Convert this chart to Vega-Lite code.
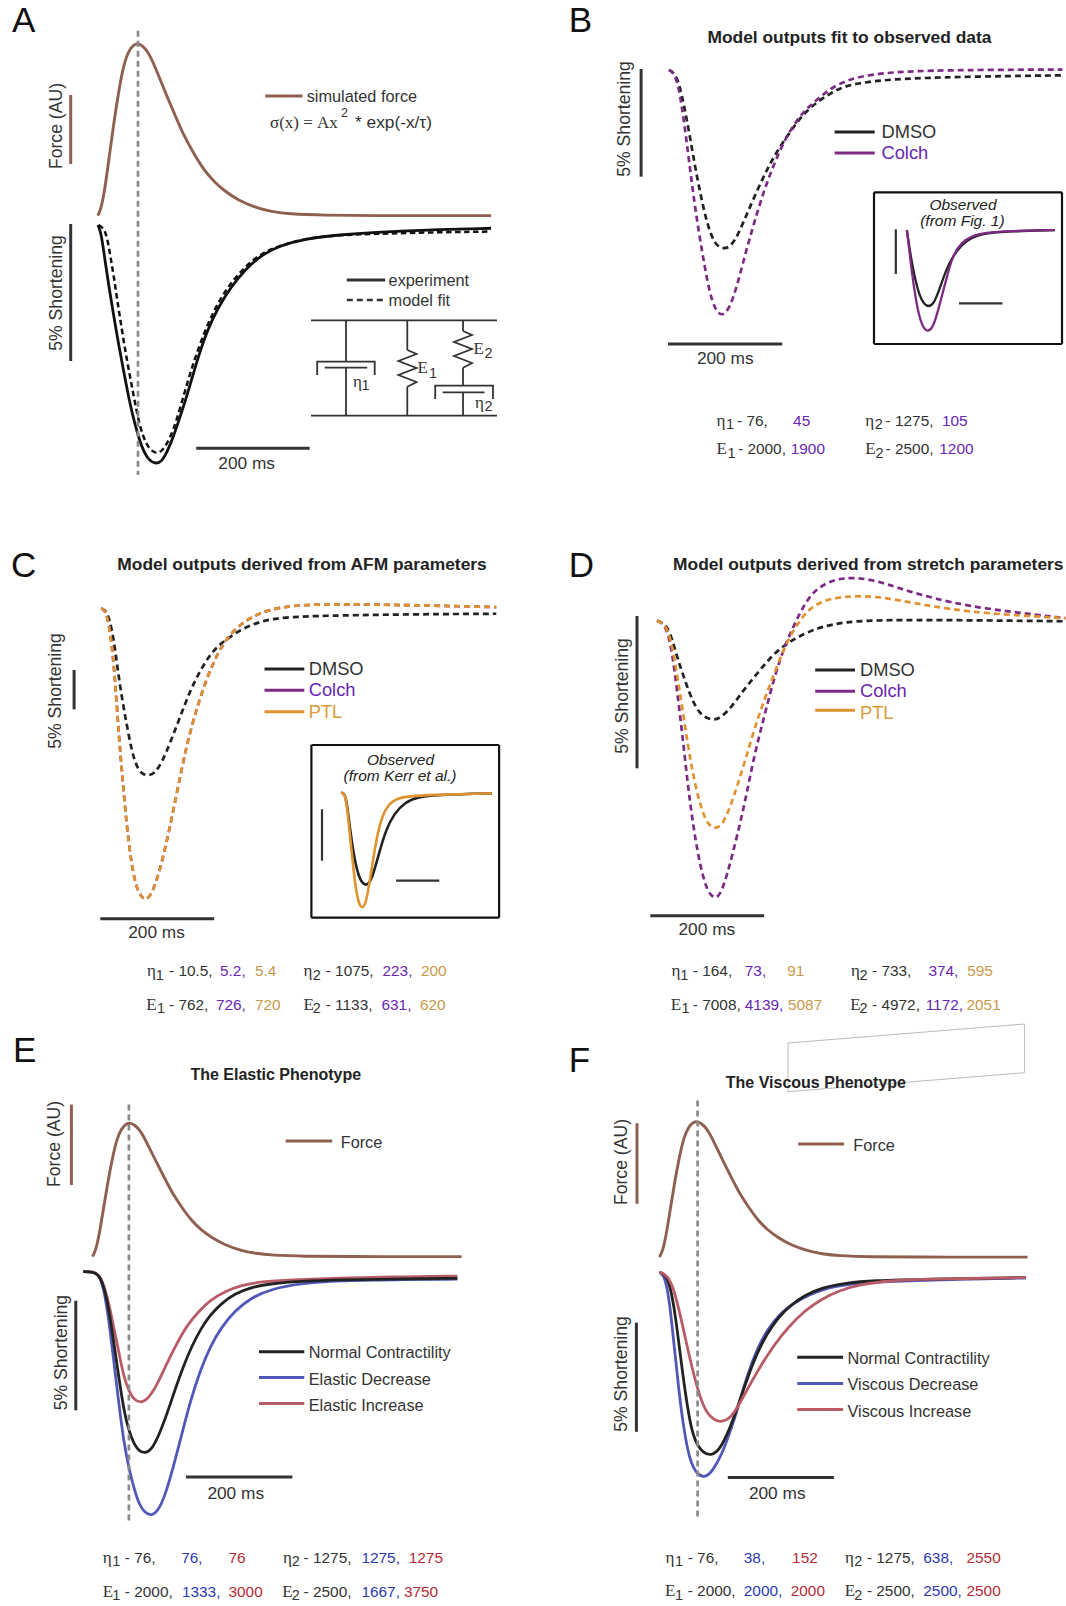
{"$schema":"https://vega.github.io/schema/vega-lite/v6.json","width":1066,"height":1606,"autosize":{"type":"none"},"padding":0,"background":"white","config":{"view":{"stroke":null}},
"datasets":{
"force":[{"series":"force","t":0,"au":0},{"series":"force","t":6,"au":0.043},{"series":"force","t":13,"au":0.168},{"series":"force","t":20,"au":0.342},{"series":"force","t":28,"au":0.536},{"series":"force","t":37,"au":0.729},{"series":"force","t":46,"au":0.884},{"series":"force","t":55,"au":0.961},{"series":"force","t":64,"au":0.994},{"series":"force","t":71,"au":1},{"series":"force","t":79,"au":0.986},{"series":"force","t":88,"au":0.952},{"series":"force","t":97,"au":0.894},{"series":"force","t":109,"au":0.797},{"series":"force","t":121,"au":0.7},{"series":"force","t":136,"au":0.584},{"series":"force","t":151,"au":0.468},{"series":"force","t":169,"au":0.362},{"series":"force","t":187,"au":0.265},{"series":"force","t":205,"au":0.197},{"series":"force","t":223,"au":0.145},{"series":"force","t":247,"au":0.091},{"series":"force","t":277,"au":0.048},{"series":"force","t":307,"au":0.023},{"series":"force","t":337,"au":0.01},{"series":"force","t":397,"au":0.002},{"series":"force","t":487,"au":0},{"series":"force","t":607,"au":0},{"series":"force","t":694,"au":0}],
"A_exp":[{"series":"experiment","t":0,"pct":0},{"series":"experiment","t":6,"pct":-0.3},{"series":"experiment","t":13.2,"pct":-1.4},{"series":"experiment","t":20.4,"pct":-2.37},{"series":"experiment","t":28.2,"pct":-3.35},{"series":"experiment","t":37.2,"pct":-4.44},{"series":"experiment","t":46.2,"pct":-5.41},{"series":"experiment","t":55.2,"pct":-6.39},{"series":"experiment","t":64.2,"pct":-7.18},{"series":"experiment","t":73.2,"pct":-7.85},{"series":"experiment","t":82.2,"pct":-8.33},{"series":"experiment","t":91.2,"pct":-8.6},{"series":"experiment","t":102,"pct":-8.72},{"series":"experiment","t":112.2,"pct":-8.64},{"series":"experiment","t":121.2,"pct":-8.33},{"series":"experiment","t":133.2,"pct":-7.73},{"series":"experiment","t":145.2,"pct":-7},{"series":"experiment","t":160.2,"pct":-6.03},{"series":"experiment","t":175.2,"pct":-4.93},{"series":"experiment","t":193.2,"pct":-3.84},{"series":"experiment","t":211.2,"pct":-3.05},{"series":"experiment","t":235.2,"pct":-2.25},{"series":"experiment","t":259.2,"pct":-1.64},{"series":"experiment","t":289.2,"pct":-1.09},{"series":"experiment","t":319.2,"pct":-0.77},{"series":"experiment","t":367.2,"pct":-0.49},{"series":"experiment","t":427.2,"pct":-0.36},{"series":"experiment","t":487.2,"pct":-0.27},{"series":"experiment","t":577.2,"pct":-0.18},{"series":"experiment","t":694,"pct":-0.12}],
"A_fit":[{"series":"model","t":1.2,"pct":0},{"series":"model","t":10.2,"pct":-0.12},{"series":"model","t":16.2,"pct":-0.43},{"series":"model","t":22.2,"pct":-1.16},{"series":"model","t":28.2,"pct":-1.89},{"series":"model","t":34.2,"pct":-2.74},{"series":"model","t":43.2,"pct":-3.95},{"series":"model","t":52.2,"pct":-5.05},{"series":"model","t":61.2,"pct":-6.02},{"series":"model","t":70.2,"pct":-7},{"series":"model","t":79.2,"pct":-7.72},{"series":"model","t":91.2,"pct":-8.21},{"series":"model","t":104.4,"pct":-8.36},{"series":"model","t":115.2,"pct":-8.21},{"series":"model","t":127.2,"pct":-7.79},{"series":"model","t":139.2,"pct":-7.12},{"series":"model","t":154.2,"pct":-6.02},{"series":"model","t":169.2,"pct":-4.99},{"series":"model","t":187.2,"pct":-3.95},{"series":"model","t":205.2,"pct":-3.1},{"series":"model","t":229.2,"pct":-2.25},{"series":"model","t":259.2,"pct":-1.52},{"series":"model","t":289.2,"pct":-1.03},{"series":"model","t":319.2,"pct":-0.77},{"series":"model","t":367.2,"pct":-0.49},{"series":"model","t":427.2,"pct":-0.36},{"series":"model","t":487,"pct":-0.33},{"series":"model","t":577,"pct":-0.27},{"series":"model","t":694,"pct":-0.24}],
"B_model":[{"series":"DMSO","t":0,"pct":0},{"series":"DMSO","t":8.9,"pct":-0.12},{"series":"DMSO","t":17.9,"pct":-0.62},{"series":"DMSO","t":26.8,"pct":-1.7},{"series":"DMSO","t":35.7,"pct":-2.94},{"series":"DMSO","t":44.6,"pct":-4.33},{"series":"DMSO","t":53.6,"pct":-5.57},{"series":"DMSO","t":62.5,"pct":-6.66},{"series":"DMSO","t":71.4,"pct":-7.51},{"series":"DMSO","t":80.4,"pct":-8.05},{"series":"DMSO","t":89.3,"pct":-8.25},{"series":"DMSO","t":99.4,"pct":-8.3},{"series":"DMSO","t":110.1,"pct":-8.13},{"series":"DMSO","t":122,"pct":-7.59},{"series":"DMSO","t":136.9,"pct":-6.66},{"series":"DMSO","t":154.8,"pct":-5.57},{"series":"DMSO","t":172.6,"pct":-4.57},{"series":"DMSO","t":190.5,"pct":-3.72},{"series":"DMSO","t":214.3,"pct":-2.79},{"series":"DMSO","t":238.1,"pct":-1.94},{"series":"DMSO","t":267.8,"pct":-1.32},{"series":"DMSO","t":297.6,"pct":-0.85},{"series":"DMSO","t":327.4,"pct":-0.62},{"series":"DMSO","t":386.9,"pct":-0.43},{"series":"DMSO","t":476.2,"pct":-0.34},{"series":"DMSO","t":595,"pct":-0.28},{"series":"DMSO","t":689,"pct":-0.25},
{"series":"Colch","t":0,"pct":0},{"series":"Colch","t":8.9,"pct":-0.12},{"series":"Colch","t":17.9,"pct":-0.85},{"series":"Colch","t":26.8,"pct":-2.48},{"series":"Colch","t":35.7,"pct":-4.33},{"series":"Colch","t":44.6,"pct":-6.19},{"series":"Colch","t":53.6,"pct":-7.74},{"series":"Colch","t":62.5,"pct":-9.13},{"series":"Colch","t":71.4,"pct":-10.37},{"series":"Colch","t":80.4,"pct":-11.07},{"series":"Colch","t":88.1,"pct":-11.33},{"series":"Colch","t":95.2,"pct":-11.38},{"series":"Colch","t":105.9,"pct":-11.07},{"series":"Colch","t":119,"pct":-10.06},{"series":"Colch","t":133.9,"pct":-8.51},{"series":"Colch","t":148.8,"pct":-7.12},{"series":"Colch","t":166.7,"pct":-5.57},{"series":"Colch","t":184.5,"pct":-4.33},{"series":"Colch","t":202.4,"pct":-3.25},{"series":"Colch","t":220.2,"pct":-2.48},{"series":"Colch","t":238.1,"pct":-1.86},{"series":"Colch","t":261.9,"pct":-1.32},{"series":"Colch","t":285.7,"pct":-0.8},{"series":"Colch","t":315.5,"pct":-0.43},{"series":"Colch","t":357.1,"pct":-0.19},{"series":"Colch","t":416.7,"pct":-0.06},{"series":"Colch","t":505.9,"pct":0},{"series":"Colch","t":689,"pct":0.02}],
"B_obs":[{"series":"DMSO","t":0,"pct":0},{"series":"DMSO","t":10.9,"pct":-1.87},{"series":"DMSO","t":23.4,"pct":-3.73},{"series":"DMSO","t":39.1,"pct":-5.6},{"series":"DMSO","t":54.7,"pct":-7.09},{"series":"DMSO","t":75,"pct":-8.21},{"series":"DMSO","t":98.4,"pct":-8.65},{"series":"DMSO","t":125,"pct":-8.21},{"series":"DMSO","t":148.4,"pct":-6.71},{"series":"DMSO","t":179.7,"pct":-4.48},{"series":"DMSO","t":210.9,"pct":-2.98},{"series":"DMSO","t":250,"pct":-1.68},{"series":"DMSO","t":296.9,"pct":-0.82},{"series":"DMSO","t":359.4,"pct":-0.37},{"series":"DMSO","t":468.8,"pct":-0.15},{"series":"DMSO","t":679.7,"pct":0},
{"series":"Colch","t":0,"pct":0},{"series":"Colch","t":10.9,"pct":-2.24},{"series":"Colch","t":23.4,"pct":-4.85},{"series":"Colch","t":39.1,"pct":-7.46},{"series":"Colch","t":54.7,"pct":-9.51},{"series":"Colch","t":75,"pct":-11},{"series":"Colch","t":98.4,"pct":-11.41},{"series":"Colch","t":121.9,"pct":-10.82},{"series":"Colch","t":148.4,"pct":-8.58},{"series":"Colch","t":179.7,"pct":-5.6},{"series":"Colch","t":210.9,"pct":-2.8},{"series":"Colch","t":250,"pct":-1.42},{"series":"Colch","t":296.9,"pct":-0.67},{"series":"Colch","t":359.4,"pct":-0.3},{"series":"Colch","t":468.8,"pct":-0.11},{"series":"Colch","t":679.7,"pct":0}],
"C_model":[{"series":"DMSO","t":0,"pct":0},{"series":"DMSO","t":7.2,"pct":-0.21},{"series":"DMSO","t":14.3,"pct":-1.27},{"series":"DMSO","t":22.1,"pct":-4.02},{"series":"DMSO","t":28.1,"pct":-7.41},{"series":"DMSO","t":35.8,"pct":-11.2},{"series":"DMSO","t":44.2,"pct":-14.6},{"series":"DMSO","t":53.1,"pct":-18},{"series":"DMSO","t":60.9,"pct":-19.9},{"series":"DMSO","t":69.8,"pct":-20.97},{"series":"DMSO","t":81.8,"pct":-21.31},{"series":"DMSO","t":93.7,"pct":-20.97},{"series":"DMSO","t":105.7,"pct":-19.7},{"series":"DMSO","t":120.6,"pct":-17.16},{"series":"DMSO","t":138.5,"pct":-13.77},{"series":"DMSO","t":156.4,"pct":-10.38},{"series":"DMSO","t":174.3,"pct":-7.84},{"series":"DMSO","t":192.2,"pct":-5.72},{"series":"DMSO","t":210.1,"pct":-4.45},{"series":"DMSO","t":234,"pct":-3.18},{"series":"DMSO","t":257.9,"pct":-2.25},{"series":"DMSO","t":287.8,"pct":-1.48},{"series":"DMSO","t":323.6,"pct":-1.14},{"series":"DMSO","t":371.3,"pct":-0.97},{"series":"DMSO","t":478.8,"pct":-0.81},{"series":"DMSO","t":598.2,"pct":-0.72},{"series":"DMSO","t":693.7,"pct":-0.68},
{"series":"Colch","t":0,"pct":0},{"series":"Colch","t":7.2,"pct":-0.3},{"series":"Colch","t":13.1,"pct":-1.91},{"series":"Colch","t":19.1,"pct":-4.87},{"series":"Colch","t":25.1,"pct":-9.96},{"series":"Colch","t":31,"pct":-16.3},{"series":"Colch","t":37,"pct":-21.4},{"series":"Colch","t":44.2,"pct":-27.3},{"series":"Colch","t":51.9,"pct":-32},{"series":"Colch","t":60.9,"pct":-35.4},{"series":"Colch","t":69.8,"pct":-36.6},{"series":"Colch","t":77.6,"pct":-37.16},{"series":"Colch","t":87.8,"pct":-36.4},{"series":"Colch","t":99.7,"pct":-34.1},{"series":"Colch","t":114.6,"pct":-29.9},{"series":"Colch","t":132.5,"pct":-23.5},{"series":"Colch","t":150.4,"pct":-17.16},{"series":"Colch","t":168.4,"pct":-12.5},{"series":"Colch","t":186.3,"pct":-8.68},{"series":"Colch","t":204.2,"pct":-5.72},{"series":"Colch","t":222.1,"pct":-3.6},{"series":"Colch","t":246,"pct":-1.91},{"series":"Colch","t":275.8,"pct":-0.64},{"series":"Colch","t":311.6,"pct":0.13},{"series":"Colch","t":359.4,"pct":0.47},{"series":"Colch","t":419.1,"pct":0.55},{"series":"Colch","t":538.5,"pct":0.42},{"series":"Colch","t":693.7,"pct":0.17}],
"C_ptl":[{"series":"PTL","t":0,"pct":0},{"series":"PTL","t":7.2,"pct":-0.3},{"series":"PTL","t":13.1,"pct":-1.91},{"series":"PTL","t":19.1,"pct":-4.87},{"series":"PTL","t":25.1,"pct":-9.96},{"series":"PTL","t":31,"pct":-16.3},{"series":"PTL","t":37,"pct":-21.4},{"series":"PTL","t":44.2,"pct":-27.3},{"series":"PTL","t":51.9,"pct":-32},{"series":"PTL","t":60.9,"pct":-35.4},{"series":"PTL","t":69.8,"pct":-36.6},{"series":"PTL","t":77.6,"pct":-37.16},{"series":"PTL","t":87.8,"pct":-36.4},{"series":"PTL","t":99.7,"pct":-34.1},{"series":"PTL","t":114.6,"pct":-29.9},{"series":"PTL","t":132.5,"pct":-23.5},{"series":"PTL","t":150.4,"pct":-17.16},{"series":"PTL","t":168.4,"pct":-12.5},{"series":"PTL","t":186.3,"pct":-8.68},{"series":"PTL","t":204.2,"pct":-5.72},{"series":"PTL","t":222.1,"pct":-3.6},{"series":"PTL","t":246,"pct":-1.91},{"series":"PTL","t":275.8,"pct":-0.64},{"series":"PTL","t":311.6,"pct":0.13},{"series":"PTL","t":359.4,"pct":0.47},{"series":"PTL","t":419.1,"pct":0.55},{"series":"PTL","t":538.5,"pct":0.42},{"series":"PTL","t":693.7,"pct":0.17}],
"C_obs":[{"series":"DMSO","t":0,"pct":0.06},{"series":"DMSO","t":18.9,"pct":0},{"series":"DMSO","t":29.9,"pct":-1.3},{"series":"DMSO","t":42.5,"pct":-3.57},{"series":"DMSO","t":58.3,"pct":-5.84},{"series":"DMSO","t":77.2,"pct":-7.79},{"series":"DMSO","t":97.7,"pct":-8.77},{"series":"DMSO","t":121.3,"pct":-9.03},{"series":"DMSO","t":144.9,"pct":-8.28},{"series":"DMSO","t":176.4,"pct":-5.84},{"series":"DMSO","t":207.9,"pct":-3.57},{"series":"DMSO","t":247.3,"pct":-1.95},{"series":"DMSO","t":294.5,"pct":-0.91},{"series":"DMSO","t":357.5,"pct":-0.32},{"series":"DMSO","t":467.8,"pct":-0.13},{"series":"DMSO","t":699.3,"pct":0},
{"series":"PTL","t":0,"pct":0.06},{"series":"PTL","t":18.9,"pct":0},{"series":"PTL","t":29.9,"pct":-1.62},{"series":"PTL","t":42.5,"pct":-4.22},{"series":"PTL","t":55.1,"pct":-6.82},{"series":"PTL","t":69.3,"pct":-9.42},{"series":"PTL","t":85,"pct":-10.88},{"series":"PTL","t":99.2,"pct":-11.23},{"series":"PTL","t":116.6,"pct":-10.71},{"series":"PTL","t":137,"pct":-8.12},{"series":"PTL","t":160.7,"pct":-4.87},{"series":"PTL","t":184.3,"pct":-2.6},{"series":"PTL","t":215.8,"pct":-1.14},{"series":"PTL","t":263,"pct":-0.42},{"series":"PTL","t":341.8,"pct":-0.23},{"series":"PTL","t":467.8,"pct":-0.13},{"series":"PTL","t":699.3,"pct":0}],
"D_model":[{"series":"DMSO","t":0,"pct":0},{"series":"DMSO","t":9,"pct":-0.07},{"series":"DMSO","t":17.9,"pct":-0.2},{"series":"DMSO","t":26.9,"pct":-0.63},{"series":"DMSO","t":35.8,"pct":-1.23},{"series":"DMSO","t":44.8,"pct":-1.73},{"series":"DMSO","t":56.7,"pct":-2.38},{"series":"DMSO","t":68.7,"pct":-2.87},{"series":"DMSO","t":80.6,"pct":-3.15},{"series":"DMSO","t":98.5,"pct":-3.28},{"series":"DMSO","t":113.4,"pct":-3.17},{"series":"DMSO","t":131.3,"pct":-2.82},{"series":"DMSO","t":152.2,"pct":-2.27},{"series":"DMSO","t":176.1,"pct":-1.73},{"series":"DMSO","t":200,"pct":-1.18},{"series":"DMSO","t":223.9,"pct":-0.8},{"series":"DMSO","t":247.8,"pct":-0.53},{"series":"DMSO","t":277.6,"pct":-0.27},{"series":"DMSO","t":307.5,"pct":-0.12},{"series":"DMSO","t":349.2,"pct":-0.01},{"series":"DMSO","t":408.9,"pct":0.02},{"series":"DMSO","t":498.5,"pct":0.02},{"series":"DMSO","t":617.9,"pct":0},{"series":"DMSO","t":717,"pct":-0.02},
{"series":"Colch","t":0,"pct":0},{"series":"Colch","t":9,"pct":-0.07},{"series":"Colch","t":17.9,"pct":-0.31},{"series":"Colch","t":26.9,"pct":-1.07},{"series":"Colch","t":35.8,"pct":-2.39},{"series":"Colch","t":44.8,"pct":-3.81},{"series":"Colch","t":53.7,"pct":-5.34},{"series":"Colch","t":62.7,"pct":-6.65},{"series":"Colch","t":74.6,"pct":-7.97},{"series":"Colch","t":86.6,"pct":-8.79},{"series":"Colch","t":95.5,"pct":-9.04},{"series":"Colch","t":104.5,"pct":-9.12},{"series":"Colch","t":113.4,"pct":-8.9},{"series":"Colch","t":125.4,"pct":-8.19},{"series":"Colch","t":140.3,"pct":-7.09},{"series":"Colch","t":155.2,"pct":-5.89},{"series":"Colch","t":170.2,"pct":-4.46},{"series":"Colch","t":188.1,"pct":-3.15},{"series":"Colch","t":206,"pct":-1.84},{"series":"Colch","t":223.9,"pct":-0.85},{"series":"Colch","t":241.8,"pct":-0.09},{"series":"Colch","t":259.7,"pct":0.57},{"series":"Colch","t":277.6,"pct":1.01},{"series":"Colch","t":301.5,"pct":1.28},{"series":"Colch","t":325.4,"pct":1.39},{"series":"Colch","t":349.2,"pct":1.41},{"series":"Colch","t":379.1,"pct":1.33},{"series":"Colch","t":408.9,"pct":1.17},{"series":"Colch","t":438.8,"pct":0.98},{"series":"Colch","t":486.6,"pct":0.73},{"series":"Colch","t":546.3,"pct":0.48},{"series":"Colch","t":617.9,"pct":0.3},{"series":"Colch","t":717,"pct":0.08},
{"series":"PTL","t":0,"pct":0},{"series":"PTL","t":9,"pct":-0.07},{"series":"PTL","t":17.9,"pct":-0.25},{"series":"PTL","t":26.9,"pct":-0.85},{"series":"PTL","t":35.8,"pct":-1.84},{"series":"PTL","t":44.8,"pct":-2.93},{"series":"PTL","t":53.7,"pct":-4.03},{"series":"PTL","t":62.7,"pct":-5.01},{"series":"PTL","t":74.6,"pct":-6},{"series":"PTL","t":86.6,"pct":-6.6},{"series":"PTL","t":95.5,"pct":-6.78},{"series":"PTL","t":104.5,"pct":-6.82},{"series":"PTL","t":116.4,"pct":-6.65},{"series":"PTL","t":128.4,"pct":-6.11},{"series":"PTL","t":140.3,"pct":-5.45},{"series":"PTL","t":155.2,"pct":-4.57},{"series":"PTL","t":170.2,"pct":-3.59},{"series":"PTL","t":188.1,"pct":-2.6},{"series":"PTL","t":206,"pct":-1.73},{"series":"PTL","t":223.9,"pct":-0.85},{"series":"PTL","t":241.8,"pct":-0.25},{"series":"PTL","t":259.7,"pct":0.24},{"series":"PTL","t":277.6,"pct":0.52},{"series":"PTL","t":301.5,"pct":0.71},{"series":"PTL","t":331.3,"pct":0.79},{"series":"PTL","t":361.2,"pct":0.81},{"series":"PTL","t":397,"pct":0.76},{"series":"PTL","t":438.8,"pct":0.62},{"series":"PTL","t":486.6,"pct":0.46},{"series":"PTL","t":546.3,"pct":0.3},{"series":"PTL","t":617.9,"pct":0.19},{"series":"PTL","t":717,"pct":0.08}],
"E_model":[{"series":"Elastic Decrease","t":-17.3,"pct":0},{"series":"Elastic Decrease","t":0,"pct":0},{"series":"Elastic Decrease","t":11.5,"pct":-0.12},{"series":"Elastic Decrease","t":21,"pct":-0.7},{"series":"Elastic Decrease","t":31,"pct":-2.22},{"series":"Elastic Decrease","t":40,"pct":-4.06},{"series":"Elastic Decrease","t":50,"pct":-6.11},{"series":"Elastic Decrease","t":59,"pct":-7.79},{"series":"Elastic Decrease","t":69,"pct":-9.05},{"series":"Elastic Decrease","t":79,"pct":-9.97},{"series":"Elastic Decrease","t":88,"pct":-10.64},{"series":"Elastic Decrease","t":98,"pct":-11},{"series":"Elastic Decrease","t":110.5,"pct":-11.16},{"series":"Elastic Decrease","t":123,"pct":-10.94},{"series":"Elastic Decrease","t":136,"pct":-10.27},{"series":"Elastic Decrease","t":152,"pct":-8.93},{"series":"Elastic Decrease","t":168,"pct":-7.42},{"series":"Elastic Decrease","t":184,"pct":-5.91},{"series":"Elastic Decrease","t":203,"pct":-4.48},{"series":"Elastic Decrease","t":222,"pct":-3.39},{"series":"Elastic Decrease","t":242,"pct":-2.55},{"series":"Elastic Decrease","t":267,"pct":-1.8},{"series":"Elastic Decrease","t":299,"pct":-1.17},{"series":"Elastic Decrease","t":337,"pct":-0.79},{"series":"Elastic Decrease","t":389,"pct":-0.54},{"series":"Elastic Decrease","t":465,"pct":-0.4},{"series":"Elastic Decrease","t":561,"pct":-0.37},{"series":"Elastic Decrease","t":686,"pct":-0.34},
{"series":"Elastic Increase","t":-17.3,"pct":0},{"series":"Elastic Increase","t":0,"pct":0},{"series":"Elastic Increase","t":11.5,"pct":-0.12},{"series":"Elastic Increase","t":21,"pct":-0.54},{"series":"Elastic Increase","t":31,"pct":-1.46},{"series":"Elastic Increase","t":40,"pct":-2.55},{"series":"Elastic Increase","t":50,"pct":-3.72},{"series":"Elastic Increase","t":59,"pct":-4.82},{"series":"Elastic Increase","t":69,"pct":-5.49},{"series":"Elastic Increase","t":79,"pct":-5.87},{"series":"Elastic Increase","t":91.4,"pct":-5.99},{"series":"Elastic Increase","t":104,"pct":-5.82},{"series":"Elastic Increase","t":120,"pct":-5.24},{"series":"Elastic Increase","t":139,"pct":-4.23},{"series":"Elastic Increase","t":158,"pct":-3.31},{"series":"Elastic Increase","t":177,"pct":-2.47},{"series":"Elastic Increase","t":200,"pct":-1.8},{"series":"Elastic Increase","t":222,"pct":-1.29},{"series":"Elastic Increase","t":248,"pct":-0.91},{"series":"Elastic Increase","t":280,"pct":-0.62},{"series":"Elastic Increase","t":318,"pct":-0.45},{"series":"Elastic Increase","t":369,"pct":-0.37},{"series":"Elastic Increase","t":465,"pct":-0.29},{"series":"Elastic Increase","t":561,"pct":-0.24},{"series":"Elastic Increase","t":686,"pct":-0.2},
{"series":"Normal Contractility","t":-17.3,"pct":0},{"series":"Normal Contractility","t":0,"pct":0},{"series":"Normal Contractility","t":11.5,"pct":-0.12},{"series":"Normal Contractility","t":21,"pct":-0.62},{"series":"Normal Contractility","t":31,"pct":-1.71},{"series":"Normal Contractility","t":40,"pct":-3.22},{"series":"Normal Contractility","t":50,"pct":-4.9},{"series":"Normal Contractility","t":59,"pct":-6.33},{"series":"Normal Contractility","t":69,"pct":-7.33},{"series":"Normal Contractility","t":79,"pct":-7.92},{"series":"Normal Contractility","t":88,"pct":-8.2},{"series":"Normal Contractility","t":100,"pct":-8.29},{"series":"Normal Contractility","t":111,"pct":-8.12},{"series":"Normal Contractility","t":123,"pct":-7.58},{"series":"Normal Contractility","t":139,"pct":-6.58},{"series":"Normal Contractility","t":155,"pct":-5.4},{"series":"Normal Contractility","t":171,"pct":-4.31},{"series":"Normal Contractility","t":187,"pct":-3.39},{"series":"Normal Contractility","t":203,"pct":-2.63},{"series":"Normal Contractility","t":222,"pct":-1.96},{"series":"Normal Contractility","t":242,"pct":-1.46},{"series":"Normal Contractility","t":267,"pct":-1.01},{"series":"Normal Contractility","t":299,"pct":-0.7},{"series":"Normal Contractility","t":337,"pct":-0.54},{"series":"Normal Contractility","t":389,"pct":-0.44},{"series":"Normal Contractility","t":465,"pct":-0.37},{"series":"Normal Contractility","t":561,"pct":-0.34},{"series":"Normal Contractility","t":686,"pct":-0.3}],
"F_model":[{"series":"Viscous Decrease","t":0,"pct":0},{"series":"Viscous Decrease","t":8.3,"pct":-0.09},{"series":"Viscous Decrease","t":17.9,"pct":-1.05},{"series":"Viscous Decrease","t":27.5,"pct":-3.31},{"series":"Viscous Decrease","t":37.1,"pct":-5.57},{"series":"Viscous Decrease","t":46.8,"pct":-7.32},{"series":"Viscous Decrease","t":56.4,"pct":-8.54},{"series":"Viscous Decrease","t":69.2,"pct":-9.23},{"series":"Viscous Decrease","t":86.5,"pct":-9.44},{"series":"Viscous Decrease","t":101.3,"pct":-9.06},{"series":"Viscous Decrease","t":117.3,"pct":-8.36},{"series":"Viscous Decrease","t":133.3,"pct":-7.32},{"series":"Viscous Decrease","t":149.4,"pct":-6.1},{"series":"Viscous Decrease","t":165.4,"pct":-4.71},{"series":"Viscous Decrease","t":184.6,"pct":-3.48},{"series":"Viscous Decrease","t":203.8,"pct":-2.61},{"series":"Viscous Decrease","t":229.5,"pct":-1.83},{"series":"Viscous Decrease","t":255.1,"pct":-1.39},{"series":"Viscous Decrease","t":280.8,"pct":-1.05},{"series":"Viscous Decrease","t":312.9,"pct":-0.73},{"series":"Viscous Decrease","t":351.3,"pct":-0.56},{"series":"Viscous Decrease","t":402.6,"pct":-0.45},{"series":"Viscous Decrease","t":498.7,"pct":-0.35},{"series":"Viscous Decrease","t":691,"pct":-0.26},
{"series":"Normal Contractility","t":0,"pct":0},{"series":"Normal Contractility","t":11.5,"pct":-0.09},{"series":"Normal Contractility","t":21.2,"pct":-0.7},{"series":"Normal Contractility","t":30.8,"pct":-2.09},{"series":"Normal Contractility","t":40.4,"pct":-4.01},{"series":"Normal Contractility","t":50,"pct":-5.75},{"series":"Normal Contractility","t":59.6,"pct":-7.14},{"series":"Normal Contractility","t":69.2,"pct":-7.84},{"series":"Normal Contractility","t":82,"pct":-8.28},{"series":"Normal Contractility","t":99.3,"pct":-8.4},{"series":"Normal Contractility","t":114,"pct":-8.1},{"series":"Normal Contractility","t":130,"pct":-7.32},{"series":"Normal Contractility","t":146,"pct":-6.27},{"series":"Normal Contractility","t":165.3,"pct":-4.88},{"series":"Normal Contractility","t":184.5,"pct":-3.66},{"series":"Normal Contractility","t":203.7,"pct":-2.79},{"series":"Normal Contractility","t":223,"pct":-2.09},{"series":"Normal Contractility","t":248.6,"pct":-1.48},{"series":"Normal Contractility","t":274.2,"pct":-1.05},{"series":"Normal Contractility","t":306.3,"pct":-0.7},{"series":"Normal Contractility","t":351.2,"pct":-0.49},{"series":"Normal Contractility","t":402.5,"pct":-0.38},{"series":"Normal Contractility","t":498.6,"pct":-0.31},{"series":"Normal Contractility","t":691,"pct":-0.24},
{"series":"Viscous Increase","t":0,"pct":0},{"series":"Viscous Increase","t":11.5,"pct":-0.09},{"series":"Viscous Increase","t":24.4,"pct":-0.52},{"series":"Viscous Increase","t":37.2,"pct":-1.74},{"series":"Viscous Increase","t":50,"pct":-3.14},{"series":"Viscous Increase","t":62.8,"pct":-4.53},{"series":"Viscous Increase","t":75.6,"pct":-5.66},{"series":"Viscous Increase","t":88.5,"pct":-6.45},{"series":"Viscous Increase","t":104.5,"pct":-6.79},{"series":"Viscous Increase","t":117.3,"pct":-6.86},{"series":"Viscous Increase","t":133.3,"pct":-6.71},{"series":"Viscous Increase","t":149.4,"pct":-6.1},{"series":"Viscous Increase","t":168.6,"pct":-5.23},{"series":"Viscous Increase","t":191,"pct":-4.27},{"series":"Viscous Increase","t":216.7,"pct":-3.31},{"series":"Viscous Increase","t":242.3,"pct":-2.53},{"series":"Viscous Increase","t":274.3,"pct":-1.74},{"series":"Viscous Increase","t":306.4,"pct":-1.22},{"series":"Viscous Increase","t":338.4,"pct":-0.84},{"series":"Viscous Increase","t":376.9,"pct":-0.56},{"series":"Viscous Increase","t":434.6,"pct":-0.38},{"series":"Viscous Increase","t":498.7,"pct":-0.31},{"series":"Viscous Increase","t":691,"pct":-0.24}],
"segments":[
{"x":70.7,"x2":70.7,"y":95,"y2":164,"c":"force","role":"bar"},{"x":70.7,"x2":70.7,"y":224,"y2":361,"c":"ink","role":"bar"},{"x":196.2,"x2":309.7,"y":448.3,"y2":448.3,"c":"ink","role":"bar"},{"x":265.2,"x2":302.6,"y":96,"y2":96,"c":"force","role":"bar"},{"x":346.8,"x2":385.2,"y":280,"y2":280,"c":"ink","role":"bar"},
{"x":311,"x2":497,"y":320.3,"y2":320.3,"c":"ink","role":"thin"},{"x":311,"x2":497,"y":415.7,"y2":415.7,"c":"ink","role":"thin"},{"x":346,"x2":346,"y":320.3,"y2":361,"c":"ink","role":"thin"},{"x":346,"x2":346,"y":367.7,"y2":415.7,"c":"ink","role":"thin"},{"x":324.7,"x2":367.2,"y":367.7,"y2":367.7,"c":"ink","role":"thin"},{"x":407.3,"x2":407.3,"y":320.3,"y2":350,"c":"ink","role":"thin"},{"x":407.3,"x2":407.3,"y":386.7,"y2":415.7,"c":"ink","role":"thin"},{"x":463,"x2":463,"y":320.3,"y2":331,"c":"ink","role":"thin"},{"x":463,"x2":463,"y":367.7,"y2":385.7,"c":"ink","role":"thin"},{"x":463,"x2":463,"y":392.3,"y2":415.7,"c":"ink","role":"thin"},{"x":442.7,"x2":484.5,"y":392.3,"y2":392.3,"c":"ink","role":"thin"},
{"x":641.1,"x2":641.1,"y":69,"y2":176.7,"c":"ink","role":"bar"},{"x":668,"x2":782.2,"y":344,"y2":344,"c":"ink","role":"bar"},{"x":834.6,"x2":874.7,"y":132,"y2":132,"c":"DMSO","role":"bar"},{"x":834.6,"x2":874.7,"y":153,"y2":153,"c":"Colch","role":"bar"},
{"x":874,"x2":1062,"y":192.3,"y2":192.3,"c":"black","role":"box"},{"x":874,"x2":1062,"y":344,"y2":344,"c":"black","role":"box"},{"x":874,"x2":874,"y":192.3,"y2":344,"c":"black","role":"box"},{"x":1062,"x2":1062,"y":192.3,"y2":344,"c":"black","role":"box"},{"x":895.8,"x2":895.8,"y":229.3,"y2":274,"c":"ink","role":"box"},{"x":959,"x2":1002.5,"y":303.3,"y2":303.3,"c":"ink","role":"box"},
{"x":74.1,"x2":74.1,"y":670,"y2":709.3,"c":"ink","role":"bar"},{"x":100.3,"x2":214.2,"y":918.7,"y2":918.7,"c":"ink","role":"bar"},{"x":264.5,"x2":304.3,"y":669,"y2":669,"c":"DMSO","role":"bar"},{"x":264.5,"x2":304.3,"y":690.3,"y2":690.3,"c":"Colch","role":"bar"},{"x":264.5,"x2":304.3,"y":711.7,"y2":711.7,"c":"PTL","role":"bar"},
{"x":311.4,"x2":499.1,"y":745,"y2":745,"c":"black","role":"box"},{"x":311.4,"x2":499.1,"y":917.7,"y2":917.7,"c":"black","role":"box"},{"x":311.4,"x2":311.4,"y":745,"y2":917.7,"c":"black","role":"box"},{"x":499.1,"x2":499.1,"y":745,"y2":917.7,"c":"black","role":"box"},{"x":322,"x2":322,"y":809.3,"y2":860.7,"c":"ink","role":"box"},{"x":396.1,"x2":439.3,"y":880.7,"y2":880.7,"c":"ink","role":"box"},
{"x":637,"x2":637,"y":616,"y2":768.3,"c":"ink","role":"bar"},{"x":650.3,"x2":764.2,"y":915.7,"y2":915.7,"c":"ink","role":"bar"},{"x":815.2,"x2":855,"y":670,"y2":670,"c":"DMSO","role":"bar"},{"x":815.2,"x2":855,"y":691.3,"y2":691.3,"c":"Colch","role":"bar"},{"x":815.2,"x2":855,"y":710.3,"y2":710.3,"c":"PTL","role":"bar"},
{"x":71.4,"x2":71.4,"y":1104.6,"y2":1185,"c":"force","role":"bar"},{"x":75.8,"x2":75.8,"y":1300.8,"y2":1410.3,"c":"ink","role":"bar"},{"x":186,"x2":292.4,"y":1477,"y2":1477,"c":"ink","role":"bar"},{"x":285.6,"x2":332.2,"y":1141,"y2":1141,"c":"force","role":"bar"},{"x":259,"x2":304.3,"y":1351.8,"y2":1351.8,"c":"Normal Contractility","role":"bar"},{"x":259,"x2":304.3,"y":1377.6,"y2":1377.6,"c":"Elastic Decrease","role":"bar"},{"x":259,"x2":304.3,"y":1403.6,"y2":1403.6,"c":"Elastic Increase","role":"bar"},
{"x":637,"x2":637,"y":1123.2,"y2":1203.8,"c":"force","role":"bar"},{"x":636.4,"x2":636.4,"y":1322.7,"y2":1431.8,"c":"ink","role":"bar"},{"x":727.8,"x2":833.9,"y":1477.4,"y2":1477.4,"c":"ink","role":"bar"},{"x":798.2,"x2":844.1,"y":1144.1,"y2":1144.1,"c":"force","role":"bar"},{"x":797.2,"x2":843.1,"y":1357.3,"y2":1357.3,"c":"Normal Contractility","role":"bar"},{"x":797.2,"x2":843.1,"y":1383.5,"y2":1383.5,"c":"Viscous Decrease","role":"bar"},{"x":797.2,"x2":843.1,"y":1409.4,"y2":1409.4,"c":"Viscous Increase","role":"bar"},
{"x":788,"x2":1024.6,"y":1043,"y2":1024,"c":"frame","role":"hair"},{"x":1024.6,"x2":1024.6,"y":1024,"y2":1072.7,"c":"frame","role":"hair"},{"x":1024.6,"x2":788,"y":1072.7,"y2":1091.7,"c":"frame","role":"hair"},{"x":788,"x2":788,"y":1091.7,"y2":1043,"c":"frame","role":"hair"}],
"dashed_segments":[{"x":138,"x2":138,"y":30.7,"y2":475,"c":"grey"},{"x":128.9,"x2":128.9,"y":1104.6,"y2":1520.5,"c":"grey"},{"x":697.6,"x2":697.6,"y":1100.4,"y2":1518,"c":"grey"},{"x":346.8,"x2":385.2,"y":300,"y2":300,"c":"ink"}],
"schematic":[
{"part":"cap1","o":1,"x":317.2,"y":375},{"part":"cap1","o":2,"x":317.2,"y":361.7},{"part":"cap1","o":3,"x":374.7,"y":361.7},{"part":"cap1","o":4,"x":374.7,"y":375},
{"part":"cap2","o":1,"x":435.2,"y":399},{"part":"cap2","o":2,"x":435.2,"y":385.7},{"part":"cap2","o":3,"x":493,"y":385.7},{"part":"cap2","o":4,"x":493,"y":399},
{"part":"spring1","o":1,"x":407.3,"y":350},{"part":"spring1","o":2,"x":416.5,"y":354},{"part":"spring1","o":3,"x":398.5,"y":361},{"part":"spring1","o":4,"x":416.5,"y":368},{"part":"spring1","o":5,"x":398.5,"y":375},{"part":"spring1","o":6,"x":416.5,"y":382},{"part":"spring1","o":7,"x":407.3,"y":386.7},
{"part":"spring2","o":1,"x":463,"y":331},{"part":"spring2","o":2,"x":472,"y":335},{"part":"spring2","o":3,"x":454,"y":342},{"part":"spring2","o":4,"x":472,"y":349},{"part":"spring2","o":5,"x":454,"y":356},{"part":"spring2","o":6,"x":472,"y":363},{"part":"spring2","o":7,"x":463,"y":367.7}],
"sans":[
{"text":"A","x":12,"y":20,"c":"black","role":"letter"},{"text":"B","x":568.7,"y":20,"c":"black","role":"letter"},{"text":"C","x":11,"y":565,"c":"black","role":"letter"},{"text":"D","x":568.7,"y":565,"c":"black","role":"letter"},{"text":"E","x":13,"y":1050,"c":"black","role":"letter"},{"text":"F","x":568.7,"y":1060,"c":"black","role":"letter"},
{"text":"simulated force","x":306.7,"y":96,"c":"ink","role":"label"},{"text":"experiment","x":388.6,"y":280,"c":"ink","role":"label"},{"text":"model fit","x":388.6,"y":300,"c":"ink","role":"label"},{"text":"200 ms","x":218.3,"y":463,"c":"ink","role":"axis"},{"text":"2","x":341,"y":112,"c":"ink","role":"sup"},{"text":"* exp(-x/τ)","x":355,"y":122,"c":"ink","role":"axis"},{"text":"1","x":361.4,"y":385,"c":"ink","role":"sub"},{"text":"1","x":429,"y":373,"c":"ink","role":"sub"},{"text":"2","x":484.5,"y":353,"c":"ink","role":"sub"},{"text":"2","x":484.5,"y":406,"c":"ink","role":"sub"},
{"text":"DMSO","x":881.5,"y":132,"c":"ink","role":"legend"},{"text":"Colch","x":881.5,"y":153,"c":"label_colch","role":"legend"},{"text":"200 ms","x":696.9,"y":358,"c":"ink","role":"axis"},
{"text":"1","x":726.1,"y":424,"c":"ink","role":"sub"},{"text":"- 76,","x":737,"y":420,"c":"ink","role":"param"},{"text":"45","x":793.1,"y":420,"c":"label_colch","role":"param"},{"text":"2","x":874.7,"y":424,"c":"ink","role":"sub"},{"text":"- 1275,","x":885.6,"y":420,"c":"ink","role":"param"},{"text":"105","x":942,"y":420,"c":"label_colch","role":"param"},{"text":"1","x":727.5,"y":453,"c":"ink","role":"sub"},{"text":"- 2000,","x":738,"y":448.3,"c":"ink","role":"param"},{"text":"1900","x":790.7,"y":448.3,"c":"label_colch","role":"param"},{"text":"2","x":875.4,"y":453,"c":"ink","role":"sub"},{"text":"- 2500,","x":885.6,"y":448.3,"c":"ink","role":"param"},{"text":"1200","x":939.3,"y":448.3,"c":"label_colch","role":"param"},
{"text":"DMSO","x":308.7,"y":669,"c":"ink","role":"legend"},{"text":"Colch","x":308.7,"y":690,"c":"label_colch","role":"legend"},{"text":"PTL","x":308.7,"y":712,"c":"label_ptl","role":"legend"},{"text":"200 ms","x":128.2,"y":932.7,"c":"ink","role":"axis"},
{"text":"1","x":155.7,"y":975,"c":"ink","role":"sub"},{"text":"- 10.5,","x":169,"y":970.7,"c":"ink","role":"param"},{"text":"5.2,","x":220,"y":970.7,"c":"label_colch","role":"param"},{"text":"5.4","x":255,"y":970.7,"c":"param_ptl","role":"param"},{"text":"2","x":312.8,"y":975,"c":"ink","role":"sub"},{"text":"- 1075,","x":325.7,"y":970.7,"c":"ink","role":"param"},{"text":"223,","x":382.5,"y":970.7,"c":"label_colch","role":"param"},{"text":"200","x":420.9,"y":970.7,"c":"param_ptl","role":"param"},
{"text":"1","x":157.1,"y":1008,"c":"ink","role":"sub"},{"text":"- 762,","x":169,"y":1004,"c":"ink","role":"param"},{"text":"726,","x":215.9,"y":1004,"c":"label_colch","role":"param"},{"text":"720","x":255,"y":1004,"c":"param_ptl","role":"param"},{"text":"2","x":312.8,"y":1008,"c":"ink","role":"sub"},{"text":"- 1133,","x":325.7,"y":1004,"c":"ink","role":"param"},{"text":"631,","x":381.5,"y":1004,"c":"label_colch","role":"param"},{"text":"620","x":419.9,"y":1004,"c":"param_ptl","role":"param"},
{"text":"DMSO","x":860,"y":670,"c":"ink","role":"legend"},{"text":"Colch","x":860,"y":691,"c":"label_colch","role":"legend"},{"text":"PTL","x":860,"y":713,"c":"label_ptl","role":"legend"},{"text":"200 ms","x":678.5,"y":929,"c":"ink","role":"axis"},
{"text":"1","x":680.2,"y":975,"c":"ink","role":"sub"},{"text":"- 164,","x":692.8,"y":970.7,"c":"ink","role":"param"},{"text":"73,","x":744.8,"y":970.7,"c":"label_colch","role":"param"},{"text":"91","x":787.3,"y":970.7,"c":"param_ptl","role":"param"},{"text":"2","x":859.4,"y":975,"c":"ink","role":"sub"},{"text":"- 733,","x":872,"y":970.7,"c":"ink","role":"param"},{"text":"374,","x":928.4,"y":970.7,"c":"label_colch","role":"param"},{"text":"595","x":967.2,"y":970.7,"c":"param_ptl","role":"param"},
{"text":"1","x":681.6,"y":1008,"c":"ink","role":"sub"},{"text":"- 7008,","x":692.8,"y":1004,"c":"ink","role":"param"},{"text":"4139,","x":744.8,"y":1004,"c":"label_colch","role":"param"},{"text":"5087","x":788,"y":1004,"c":"param_ptl","role":"param"},{"text":"2","x":859.4,"y":1008,"c":"ink","role":"sub"},{"text":"- 4972,","x":872,"y":1004,"c":"ink","role":"param"},{"text":"1172,","x":925.7,"y":1004,"c":"label_colch","role":"param"},{"text":"2051","x":966.5,"y":1004,"c":"param_ptl","role":"param"},
{"text":"Force","x":340.7,"y":1142,"c":"ink","role":"label"},{"text":"Normal Contractility","x":308.7,"y":1352.6,"c":"ink","role":"label"},{"text":"Elastic Decrease","x":308.7,"y":1379,"c":"ink","role":"label"},{"text":"Elastic Increase","x":308.7,"y":1405,"c":"ink","role":"label"},{"text":"200 ms","x":207.4,"y":1493,"c":"ink","role":"axis"},
{"text":"1","x":112.2,"y":1561.5,"c":"ink","role":"sub"},{"text":"- 76,","x":124.8,"y":1557.2,"c":"ink","role":"param"},{"text":"76,","x":181.2,"y":1557.2,"c":"label_blue","role":"param"},{"text":"76","x":228.5,"y":1557.2,"c":"label_red","role":"param"},{"text":"2","x":291.7,"y":1561.5,"c":"ink","role":"sub"},{"text":"- 1275,","x":303.6,"y":1557.2,"c":"ink","role":"param"},{"text":"1275,","x":361.4,"y":1557.2,"c":"label_blue","role":"param"},{"text":"1275","x":408.7,"y":1557.2,"c":"label_red","role":"param"},
{"text":"1","x":112.2,"y":1595,"c":"ink","role":"sub"},{"text":"- 2000,","x":124.8,"y":1591,"c":"ink","role":"param"},{"text":"1333,","x":181.9,"y":1591,"c":"label_blue","role":"param"},{"text":"3000","x":228.5,"y":1591,"c":"label_red","role":"param"},{"text":"2","x":291.7,"y":1595,"c":"ink","role":"sub"},{"text":"- 2500,","x":303.6,"y":1591,"c":"ink","role":"param"},{"text":"1667,","x":361.4,"y":1591,"c":"label_blue","role":"param"},{"text":"3750","x":403.9,"y":1591,"c":"label_red","role":"param"},
{"text":"Force","x":853.3,"y":1145.7,"c":"ink","role":"label"},{"text":"Normal Contractility","x":847.5,"y":1358.5,"c":"ink","role":"label"},{"text":"Viscous Decrease","x":847.5,"y":1384.7,"c":"ink","role":"label"},{"text":"Viscous Increase","x":847.5,"y":1410.9,"c":"ink","role":"label"},{"text":"200 ms","x":748.9,"y":1493.4,"c":"ink","role":"axis"},
{"text":"1","x":675.1,"y":1561.5,"c":"ink","role":"sub"},{"text":"- 76,","x":687.7,"y":1557,"c":"ink","role":"param"},{"text":"38,","x":743.8,"y":1557,"c":"label_blue","role":"param"},{"text":"152","x":792.1,"y":1557,"c":"label_red","role":"param"},{"text":"2","x":854.3,"y":1561.5,"c":"ink","role":"sub"},{"text":"- 1275,","x":866.9,"y":1557,"c":"ink","role":"param"},{"text":"638,","x":923.3,"y":1557,"c":"label_blue","role":"param"},{"text":"2550","x":966.5,"y":1557,"c":"label_red","role":"param"},
{"text":"1","x":675.1,"y":1595,"c":"ink","role":"sub"},{"text":"- 2000,","x":687.7,"y":1590.6,"c":"ink","role":"param"},{"text":"2000,","x":743.8,"y":1590.6,"c":"label_blue","role":"param"},{"text":"2000","x":790.7,"y":1590.6,"c":"label_red","role":"param"},{"text":"2","x":854.3,"y":1595,"c":"ink","role":"sub"},{"text":"- 2500,","x":866.9,"y":1590.6,"c":"ink","role":"param"},{"text":"2500,","x":923.3,"y":1590.6,"c":"label_blue","role":"param"},{"text":"2500","x":966.5,"y":1590.6,"c":"label_red","role":"param"}],
"serif":[{"text":"σ(x) = Ax","x":270,"y":122},{"text":"η","x":353,"y":381},{"text":"E","x":417.5,"y":367},{"text":"E","x":473.6,"y":348},{"text":"η","x":475,"y":402},
{"text":"η","x":716.6,"y":420},{"text":"η","x":865.2,"y":420},{"text":"E","x":716.6,"y":448.3},{"text":"E","x":865.2,"y":448.3},
{"text":"η","x":146.9,"y":970.7},{"text":"η","x":303.6,"y":970.7},{"text":"E","x":146.2,"y":1004},{"text":"E","x":303.6,"y":1004},
{"text":"η","x":671.4,"y":970.7},{"text":"η","x":850.9,"y":970.7},{"text":"E","x":670.7,"y":1004},{"text":"E","x":850.2,"y":1004},
{"text":"η","x":102.7,"y":1557.2},{"text":"η","x":282.9,"y":1557.2},{"text":"E","x":102.7,"y":1591},{"text":"E","x":282.2,"y":1591},
{"text":"η","x":665.6,"y":1557},{"text":"η","x":845.1,"y":1557},{"text":"E","x":664.9,"y":1590.6},{"text":"E","x":844.8,"y":1590.6}],
"titles":[{"text":"Model outputs fit to observed data","x":707.4,"y":37},{"text":"Model outputs derived from AFM parameters","x":117.3,"y":564},{"text":"Model outputs derived from stretch parameters","x":673.1,"y":564}],
"phenotype_titles":[{"text":"The Elastic Phenotype","x":190.4,"y":1074},{"text":"The Viscous Phenotype","x":725.8,"y":1082}],
"insets":[{"text":"Observed","x":963,"y":205},{"text":"(from Fig. 1)","x":962.4,"y":221},{"text":"Observed","x":400.5,"y":760},{"text":"(from Kerr et al.)","x":400,"y":776}],
"rotated":[{"text":"Force (AU)","x":57,"y":126},{"text":"5% Shortening","x":57,"y":293},{"text":"5% Shortening","x":625,"y":119},{"text":"5% Shortening","x":56.4,"y":691},{"text":"5% Shortening","x":623,"y":696},{"text":"Force (AU)","x":55.4,"y":1143.9},{"text":"5% Shortening","x":61.5,"y":1352.6},{"text":"Force (AU)","x":621.7,"y":1162},{"text":"5% Shortening","x":622.4,"y":1374}]
},
"layer":[
{"data":{"name":"force"},"mark":{"type":"line","interpolate":"basis","strokeWidth":2.9},"encoding":{"x":{"field":"t","type":"quantitative","axis":null,"scale":{"domain":[-172.8,1708.8],"nice":false,"zero":false}},"y":{"field":"au","type":"quantitative","axis":null,"scale":{"domain":[-8.068,1.2515],"nice":false,"zero":false}},"color":{"field":"series","type":"nominal","legend":null,"scale":{"domain":["force","experiment","model","DMSO","Colch","PTL","Normal Contractility","Elastic Decrease","Elastic Increase","Viscous Decrease","Viscous Increase","ink","black","label_colch","label_ptl","param_ptl","label_blue","label_red","grey","frame"],"range":["#8f5f50","#111111","#111111","#222222","#7d2a85","#e0922f","#222222","#5058b8","#b95c68","#5058b8","#b95c68","#333333","#111111","#6a25b5","#dd9a3c","#c9994a","#2c3ab4","#b62a33","#8a8a8a","#aaaaaa"]}}}},
{"data":{"name":"A_exp"},"mark":{"type":"line","interpolate":"basis","strokeWidth":2.8},"encoding":{"x":{"field":"t","type":"quantitative","axis":null,"scale":{"domain":[-172.8,1708.8],"nice":false,"zero":false}},"y":{"field":"pct","type":"quantitative","axis":null,"scale":{"domain":[-50.4,8.21],"nice":false,"zero":false}},"color":{"field":"series","type":"nominal","legend":null}}},
{"data":{"name":"A_fit"},"mark":{"type":"line","interpolate":"basis","strokeWidth":2.5,"strokeDash":[5.5,3.5]},"encoding":{"x":{"field":"t","type":"quantitative","axis":null,"scale":{"domain":[-172.8,1708.8],"nice":false,"zero":false}},"y":{"field":"pct","type":"quantitative","axis":null,"scale":{"domain":[-50.4,8.21],"nice":false,"zero":false}},"color":{"field":"series","type":"nominal","legend":null}}},
{"data":{"name":"B_model"},"mark":{"type":"line","interpolate":"basis","strokeWidth":2.7,"strokeDash":[6,4]},"encoding":{"x":{"field":"t","type":"quantitative","axis":null,"scale":{"domain":[-1171.4,695.2],"nice":false,"zero":false}},"y":{"field":"pct","type":"quantitative","axis":null,"scale":{"domain":[-71.33,3.25],"nice":false,"zero":false}},"color":{"field":"series","type":"nominal","legend":null}}},
{"data":{"name":"B_obs"},"mark":{"type":"line","interpolate":"basis","strokeWidth":2.3},"encoding":{"x":{"field":"t","type":"quantitative","axis":null,"scale":{"domain":[-4168.8,731.3],"nice":false,"zero":false}},"y":{"field":"pct","type":"quantitative","axis":null,"scale":{"domain":[-153.97,25.74],"nice":false,"zero":false}},"color":{"field":"series","type":"nominal","legend":null}}},
{"data":{"name":"C_model"},"mark":{"type":"line","interpolate":"basis","strokeWidth":2.7,"strokeDash":[6,4]},"encoding":{"x":{"field":"t","type":"quantitative","axis":null,"scale":{"domain":[-177.9,1694.3],"nice":false,"zero":false}},"y":{"field":"pct","type":"quantitative","axis":null,"scale":{"domain":[-126.8,77.33],"nice":false,"zero":false}},"color":{"field":"series","type":"nominal","legend":null}}},
{"data":{"name":"C_ptl"},"mark":{"type":"line","interpolate":"basis","strokeWidth":2.7,"strokeDash":[6,4]},"encoding":{"x":{"field":"t","type":"quantitative","axis":null,"scale":{"domain":[-177.9,1694.3],"nice":false,"zero":false}},"y":{"field":"pct","type":"quantitative","axis":null,"scale":{"domain":[-126.8,77.33],"nice":false,"zero":false}},"color":{"field":"series","type":"nominal","legend":null}}},
{"data":{"name":"C_obs"},"mark":{"type":"line","interpolate":"basis","strokeWidth":2.6},"encoding":{"x":{"field":"t","type":"quantitative","axis":null,"scale":{"domain":[-1579.7,3359.5],"nice":false,"zero":false}},"y":{"field":"pct","type":"quantitative","axis":null,"scale":{"domain":[-79.16,77.28],"nice":false,"zero":false}},"color":{"field":"series","type":"nominal","legend":null}}},
{"data":{"name":"D_model"},"mark":{"type":"line","interpolate":"basis","strokeWidth":2.7,"strokeDash":[6,4]},"encoding":{"x":{"field":"t","type":"quantitative","axis":null,"scale":{"domain":[-1154,718.2],"nice":false,"zero":false}},"y":{"field":"pct","type":"quantitative","axis":null,"scale":{"domain":[-32.34,20.37],"nice":false,"zero":false}},"color":{"field":"series","type":"nominal","legend":null}}},
{"data":{"name":"force"},"mark":{"type":"line","interpolate":"basis","strokeWidth":2.9},"encoding":{"x":{"field":"t","type":"quantitative","axis":null,"scale":{"domain":[-173.8,1830.1],"nice":false,"zero":false}},"y":{"field":"au","type":"quantitative","axis":null,"scale":{"domain":[-2.613,9.398],"nice":false,"zero":false}},"color":{"field":"series","type":"nominal","legend":null}}},
{"data":{"name":"E_model"},"mark":{"type":"line","interpolate":"basis","strokeWidth":2.8},"encoding":{"x":{"field":"t","type":"quantitative","axis":null,"scale":{"domain":[-173.8,1830.1],"nice":false,"zero":false}},"y":{"field":"pct","type":"quantitative","axis":null,"scale":{"domain":[-15.27,58.09],"nice":false,"zero":false}},"color":{"field":"series","type":"nominal","legend":null}}},
{"data":{"name":"force"},"mark":{"type":"line","interpolate":"basis","strokeWidth":2.9},"encoding":{"x":{"field":"t","type":"quantitative","axis":null,"scale":{"domain":[-1243.5,766.6],"nice":false,"zero":false}},"y":{"field":"au","type":"quantitative","axis":null,"scale":{"domain":[-2.571,9.263],"nice":false,"zero":false}},"color":{"field":"series","type":"nominal","legend":null}}},
{"data":{"name":"F_model"},"mark":{"type":"line","interpolate":"basis","strokeWidth":2.8},"encoding":{"x":{"field":"t","type":"quantitative","axis":null,"scale":{"domain":[-1243.5,766.6],"nice":false,"zero":false}},"y":{"field":"pct","type":"quantitative","axis":null,"scale":{"domain":[-15.29,58.3],"nice":false,"zero":false}},"color":{"field":"series","type":"nominal","legend":null}}},
{"data":{"name":"segments"},"mark":{"type":"rule"},"encoding":{"x":{"field":"x","type":"quantitative","axis":null,"scale":{"domain":[0,1066],"nice":false,"zero":false}},"x2":{"field":"x2"},"y":{"field":"y","type":"quantitative","axis":null,"scale":{"domain":[1606,0],"nice":false,"zero":false}},"y2":{"field":"y2"},"color":{"field":"c","type":"nominal","legend":null},"strokeWidth":{"field":"role","type":"nominal","legend":null,"scale":{"type":"ordinal","domain":["bar","thin","box","hair"],"range":[3,1.8,2.2,0.8]}}}},
{"data":{"name":"dashed_segments"},"mark":{"type":"rule","strokeWidth":2.7,"strokeDash":[6,4]},"encoding":{"x":{"field":"x","type":"quantitative","axis":null,"scale":{"domain":[0,1066],"nice":false,"zero":false}},"x2":{"field":"x2"},"y":{"field":"y","type":"quantitative","axis":null,"scale":{"domain":[1606,0],"nice":false,"zero":false}},"y2":{"field":"y2"},"color":{"field":"c","type":"nominal","legend":null}}},
{"data":{"name":"schematic"},"mark":{"type":"line","strokeWidth":1.8,"color":"#333333"},"encoding":{"x":{"field":"x","type":"quantitative","axis":null,"scale":{"domain":[0,1066],"nice":false,"zero":false}},"y":{"field":"y","type":"quantitative","axis":null,"scale":{"domain":[1606,0],"nice":false,"zero":false}},"detail":{"field":"part"},"order":{"field":"o","type":"quantitative"}}},
{"data":{"name":"sans"},"mark":{"type":"text","font":"Liberation Sans","align":"left","baseline":"middle","dy":0.7},"encoding":{"x":{"field":"x","type":"quantitative","axis":null,"scale":{"domain":[0,1066],"nice":false,"zero":false}},"y":{"field":"y","type":"quantitative","axis":null,"scale":{"domain":[1606,0],"nice":false,"zero":false}},"text":{"field":"text"},"color":{"field":"c","type":"nominal","legend":null},"size":{"field":"role","type":"nominal","legend":null,"scale":{"type":"ordinal","domain":["letter","axis","label","legend","param","sub","sup"],"range":[35,17.3,16.3,18.3,15.4,14.5,12.5]}}}},
{"data":{"name":"serif"},"mark":{"type":"text","font":"Liberation Serif","fontSize":17,"align":"left","baseline":"middle","dy":0.7,"color":"#333333"},"encoding":{"x":{"field":"x","type":"quantitative","axis":null,"scale":{"domain":[0,1066],"nice":false,"zero":false}},"y":{"field":"y","type":"quantitative","axis":null,"scale":{"domain":[1606,0],"nice":false,"zero":false}},"text":{"field":"text"}}},
{"data":{"name":"titles"},"mark":{"type":"text","font":"Liberation Sans","fontWeight":"bold","fontSize":17.4,"align":"left","baseline":"middle","dy":0.7,"color":"#222222"},"encoding":{"x":{"field":"x","type":"quantitative","axis":null,"scale":{"domain":[0,1066],"nice":false,"zero":false}},"y":{"field":"y","type":"quantitative","axis":null,"scale":{"domain":[1606,0],"nice":false,"zero":false}},"text":{"field":"text"}}},
{"data":{"name":"phenotype_titles"},"mark":{"type":"text","font":"Liberation Sans","fontWeight":"bold","fontSize":16,"align":"left","baseline":"middle","dy":0.7,"color":"#222222"},"encoding":{"x":{"field":"x","type":"quantitative","axis":null,"scale":{"domain":[0,1066],"nice":false,"zero":false}},"y":{"field":"y","type":"quantitative","axis":null,"scale":{"domain":[1606,0],"nice":false,"zero":false}},"text":{"field":"text"}}},
{"data":{"name":"insets"},"mark":{"type":"text","font":"Liberation Sans","fontStyle":"italic","fontSize":15.5,"align":"center","baseline":"middle","color":"#222222"},"encoding":{"x":{"field":"x","type":"quantitative","axis":null,"scale":{"domain":[0,1066],"nice":false,"zero":false}},"y":{"field":"y","type":"quantitative","axis":null,"scale":{"domain":[1606,0],"nice":false,"zero":false}},"text":{"field":"text"}}},
{"data":{"name":"rotated"},"mark":{"type":"text","font":"Liberation Sans","fontSize":17.6,"angle":270,"align":"center","baseline":"middle","color":"#333333"},"encoding":{"x":{"field":"x","type":"quantitative","axis":null,"scale":{"domain":[0,1066],"nice":false,"zero":false}},"y":{"field":"y","type":"quantitative","axis":null,"scale":{"domain":[1606,0],"nice":false,"zero":false}},"text":{"field":"text"}}}
],
"resolve":{"scale":{"x":"independent","y":"independent"}}}
